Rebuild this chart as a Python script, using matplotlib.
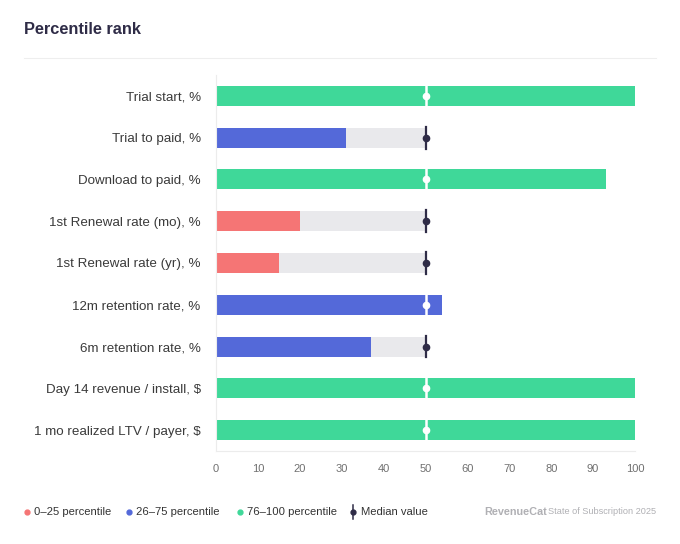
import matplotlib.pyplot as plt
from matplotlib.lines import Line2D

plt.rcParams['font.family'] = ['Liberation Sans', 'DejaVu Sans']

# data
metrics = [
  'Trial start, %',
  'Trial to paid, %',
  'Download to paid, %',
  '1st Renewal rate (mo), %',
  '1st Renewal rate (yr), %',
  '12m retention rate, %',
  '6m retention rate, %',
  'Day 14 revenue / install, $',
  '1 mo realized LTV / payer, $',
]
ranks = [100, 31, 93, 20, 15, 54, 37, 100, 100]
median = 50
xticks = [0, 10, 20, 30, 40, 50, 60, 70, 80, 90, 100]
legend_labels = ['0\u201325 percentile', '26\u201375 percentile', '76\u2013100 percentile']

RED = '#f57575'
BLUE = '#5469d9'
GREEN = '#3fd899'
GREY = '#e9e9ec'
DARK = '#2f2c47'

def band_color(v):
  if v <= 25:
    return RED
  if v <= 75:
    return BLUE
  return GREEN

W, H = 680, 544
def fx(px):
  return px / W
def fy(py):
  return 1 - py / H

fig = plt.figure(figsize=(6.8, 5.44), dpi=100)
ax = fig.add_axes([fx(216), fy(451), (635 - 216)/W, (451 - 75)/H])

ys = list(range(len(metrics)))
h = 0.48
for y, v in zip(ys, ranks):
  if v < median:
    ax.barh(y, median - v, left=v, height=h, color=GREY, zorder=1)
  ax.barh(y, v, height=h, color=band_color(v), zorder=2)
  if v > median:
    ax.plot([median, median], [y - h/2, y + h/2], color='white', lw=1.8, zorder=3)
    ax.plot(median, y, 'o', color='white', ms=4.5, zorder=4)
  else:
    ax.plot([median, median], [y - h/2 - 0.02, y + h/2 + 0.02], color=DARK, lw=1.6, zorder=3)
    ax.plot(median, y, 'o', color=DARK, ms=4.5, zorder=4)

ax.set_ylim(len(metrics) - 0.5, -0.5)
ax.set_xlim(0, 100)
ax.set_yticks(ys)
ax.set_yticklabels(metrics, fontsize=9.6, color='#3a3a3a')
ax.set_xticks(xticks)
ax.set_xticklabels([str(t) for t in xticks], fontsize=8, color='#707070')
ax.tick_params(axis='y', length=0, pad=16 - 5)
ax.tick_params(axis='x', length=0, pad=9)
for s in ['top', 'right']:
  ax.spines[s].set_visible(False)
ax.spines['left'].set_color('#ececec')
ax.spines['bottom'].set_color('#ececec')
ax.spines['left'].set_linewidth(0.8)
ax.spines['bottom'].set_linewidth(0.8)

# title and separator
fig.text(fx(24), fy(29), 'Percentile rank', fontsize=11.8, fontweight='bold',
  color=DARK, va='center', ha='left')
fig.add_artist(Line2D([fx(24), fx(656)], [fy(58), fy(58)], color='#eeeeee', lw=0.8))

# legend, placed by hand
ly = fy(512)
for dot_x, col, lab in zip([27, 129, 240], [RED, BLUE, GREEN], legend_labels):
  fig.add_artist(Line2D([fx(dot_x)], [ly], marker='o', ls='none', color=col, ms=3.5))
  fig.text(fx(dot_x + 7), ly, lab, fontsize=8.1, color='#333333', va='center', ha='left')
fig.add_artist(Line2D([fx(353), fx(353)], [fy(505), fy(519)], color=DARK, lw=1.1))
fig.add_artist(Line2D([fx(353)], [ly], marker='o', color=DARK, ms=3.5))
fig.text(fx(361), ly, 'Median value', fontsize=8.1, color='#333333', va='center', ha='left')

# footer
fig.text(fx(484), ly, 'RevenueCat', fontsize=7.8, fontweight='bold',
  color='#b0b0b4', va='center', ha='left')
fig.text(fx(656), ly, 'State of Subscription 2025', fontsize=6.6,
  color='#b0b0b4', va='center', ha='right')

plt.savefig('out.png', dpi=100)
